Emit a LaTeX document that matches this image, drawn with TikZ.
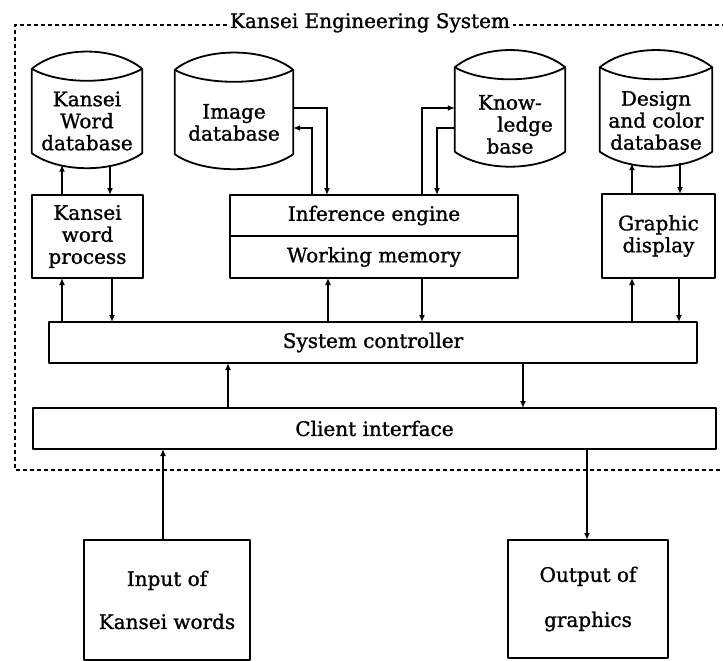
\documentclass[tikz,border=0pt]{standalone}
\usepackage{fontspec}
\setmainfont{DejaVu Serif}
\newfontface\heavyserif{DejaVu Serif}[FakeBold=1.2]
\usetikzlibrary{arrows.meta,calc}
\newcommand\txtfont{\heavyserif\fontsize{20}{22}\selectfont}
% name, cx, cy, width, text, text yshift
\newcommand{\cyl}[6]{%
  \node[minimum width=#4pt, minimum height=116pt, inner sep=0pt, draw=none] (#1) at (#2,#3) {};
  \draw[ln] ([yshift=-17pt]#1.north west) .. controls +(28,-23) and +(-28,-23) .. ([yshift=-17pt]#1.north east)
     -- ([yshift=15pt]#1.south east) .. controls +(-28,20) and +(28,20) .. ([yshift=15pt]#1.south west) -- cycle;
  \draw[ln] ([yshift=-17pt]#1.north west) .. controls +(28,16) and +(-28,16) .. ([yshift=-17pt]#1.north east);
  \node[txt] (#1-t) at ([yshift=#6pt]#1.center) {#5};
}
\begin{document}
\begin{tikzpicture}[x=1pt,y=-1pt,
  ln/.style={line width=1.8pt, line join=round},
  box/.style={ln, draw, rectangle, inner sep=0pt, outer sep=0pt, align=center, font=\txtfont},
  arr/.style={line width=1.6pt, -{Latex[length=7pt,width=6pt]}},
  txt/.style={align=center, font=\txtfont, inner sep=0pt},
  frame/.style={line width=1.3pt, dash pattern=on 4pt off 3pt}]
\useasboundingbox (0,0) rectangle (723,661);
\clip (0,0) rectangle (723,661);

% title and frame
\node[txt, anchor=base] (title) at (370,28) {Kansei Engineering System};
\coordinate (ftl) at (15,25);
\coordinate (fbl) at (15,470);
\coordinate (fbr) at (740,470);
\coordinate (ftr) at (740,25);
\draw[frame] ([xshift=-3pt]title.west |- ftl) -- (ftl) -- (fbl) -- (fbr) -- (ftr) -- ([xshift=3pt]title.east |- ftr);

% databases
\cyl{kwdb}{87}{110}{110}{Kansei\\Word\\database}{-11}
\cyl{imgdb}{234}{111}{118}{Image\\database}{-11.5}
\cyl{kb}{510}{108.5}{110}{Know-\\\hspace*{1.5em}ledge\\base}{-16}
\cyl{dcdb}{656}{108.5}{112}{Design\\and color\\database}{-12}

% boxes
\node[box, minimum width=111pt, minimum height=83pt] (kwp) at (87.5,236.5) {Kansei\\word\\process};
\node[box, minimum width=288pt, minimum height=41pt] (ie) at (374,215.5) {Inference engine};
\node[box, minimum width=288pt, minimum height=42pt, anchor=north] (wm) at (ie.south) {Working memory};
\node[box, minimum width=113pt, minimum height=84pt] (gd) at (658.5,236) {Graphic\\display};
\node[box, minimum width=648pt, minimum height=41pt] (sc) at (373,342.5) {System controller};
\node[box, minimum width=683pt, minimum height=41pt] (ci) at (374.5,428.5) {Client interface};
\node[box, line width=2.3pt, minimum width=166pt, minimum height=120pt] (in) at (167,600) {Input of\\[21pt]Kansei words};
\node[box, line width=2.3pt, minimum width=160pt, minimum height=118pt] (out) at (588,599) {Output of\\[23pt]graphics};

% connector x / y positions
\coordinate (xa) at (62,0);
\coordinate (xb) at (110,0);
\coordinate (xb2) at (112,0);
\coordinate (xc) at (328,0);
\coordinate (xd) at (422,0);
\coordinate (xe) at (632,0);
\coordinate (xf) at (680,0);
\coordinate (xf2) at (679,0);
\coordinate (xg) at (228,0);
\coordinate (xh) at (523,0);
\coordinate (xi) at (163,0);
\coordinate (xj) at (587,0);
\coordinate (xk) at (327,0);
\coordinate (xl) at (312,0);
\coordinate (xm) at (437,0);
\coordinate (ya) at (0,108);
\coordinate (yb) at (0,128);

% connectors
\draw[arr, shorten >=-3.5pt] (kwp.north -| xa) -- (kwdb.south -| xa);
\draw[arr, shorten <=-3.5pt] (kwdb.south -| xb) -- (kwp.north -| xb);
\draw[arr] (sc.north -| xa) -- (kwp.south -| xa);
\draw[arr] (kwp.south -| xb2) -- (sc.north -| xb2);
\draw[arr] (imgdb.east |- ya) -| (ie.north -| xk);
\draw[arr] (ie.north -| xl) |- (imgdb.east |- yb);
\draw[arr] (ie.north -| xd) |- (kb.west |- ya);
\draw[arr] (kb.west |- yb) -| (ie.north -| xm);
\draw[arr] (sc.north -| xc) -- (wm.south -| xc);
\draw[arr] (wm.south -| xd) -- (sc.north -| xd);
\draw[arr] (sc.north -| xe) -- (gd.south -| xe);
\draw[arr] (gd.south -| xf2) -- (sc.north -| xf2);
\draw[arr, shorten >=-3.5pt] (gd.north -| xe) -- (dcdb.south -| xe);
\draw[arr, shorten <=-3.5pt] (dcdb.south -| xf) -- (gd.north -| xf);
\draw[arr] (ci.north -| xg) -- (sc.south -| xg);
\draw[arr] (sc.south -| xh) -- (ci.north -| xh);
\draw[arr] (in.north -| xi) -- (ci.south -| xi);
\draw[arr] (ci.south -| xj) -- (out.north -| xj);
\end{tikzpicture}
\end{document}
